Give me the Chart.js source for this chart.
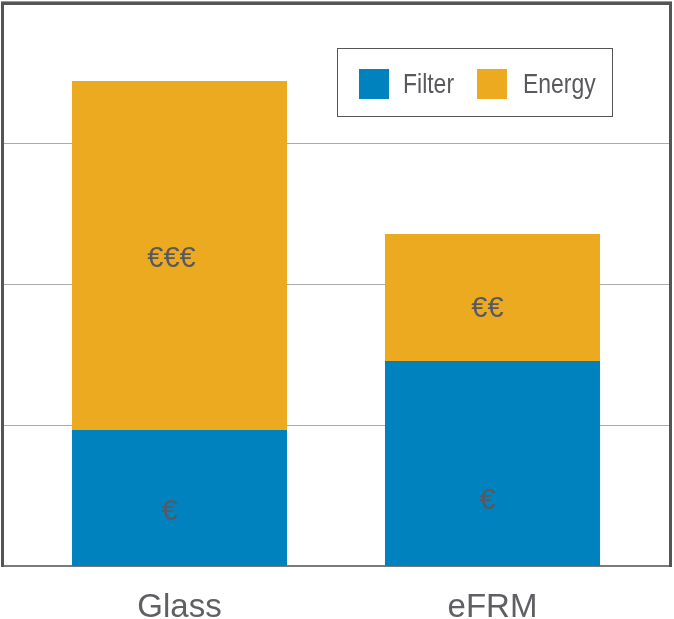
<!DOCTYPE html>
<html><head><meta charset="utf-8">
<script src="https://cdn.jsdelivr.net/npm/chart.js@4/dist/chart.umd.min.js"></script>
<style>html,body{margin:0;padding:0;background:#fff}#wrap{width:674px;height:619px;position:relative}</style>
</head><body><div id="wrap"><canvas id="c"></canvas></div>
<script>
// ---- data ----
const categories = ['Glass', 'eFRM'];
const seriesNames = ['Filter', 'Energy'];
const filterValues = [0.965, 1.454];
const energyValues = [2.475, 0.901];
const filterLabels = ['€', '€'];
const energyLabels = ['€€€', '€€'];
const yTicks = [0, 1, 2, 3, 4];

// ---- style ----
const BLUE = '#0082bf', ORANGE = '#ecaa20', TEXT = '#58585e';
const SANS = '"Liberation Sans", Arial, sans-serif';
// pixel nudges of the in-bar labels relative to each bar's centre [datasetIndex][index]
const labelNudge = [[[-10, 14], [-5, 38]], [[-8, 4], [-5, 12]]];

const framePlugin = {
  id: 'frame',
  beforeDatasetsDraw(chart) {
    const ctx = chart.ctx, y = chart.scales.y;
    ctx.save();
    ctx.fillStyle = '#ababab';
    yTicks.forEach(v => {
      if (v === yTicks[0] || v === yTicks[yTicks.length - 1]) return;
      const py = Math.round(y.getPixelForValue(v));
      ctx.fillRect(3, py, 667, 1);
    });
    const bottom = Math.round(y.getPixelForValue(yTicks[0]));
    ctx.fillStyle = '#7a7a7a';
    ctx.fillRect(1, bottom - 1, 671, 2);
    ctx.fillStyle = '#9a9a9a';
    ctx.fillRect(1, 1, 671, 1);
    ctx.fillStyle = '#555555';
    ctx.fillRect(1, 2, 671, 3);
    ctx.fillRect(1, 2, 3, bottom - 1);
    ctx.fillRect(669, 2, 3, bottom - 1);
    ctx.restore();
  },
  afterDatasetsDraw(chart) {
    const ctx = chart.ctx;
    const texts = [filterLabels, energyLabels];
    ctx.save();
    ctx.fillStyle = TEXT;
    ctx.font = '29px ' + SANS;
    ctx.textAlign = 'center';
    ctx.textBaseline = 'middle';
    chart.data.datasets.forEach((ds, di) => {
      chart.getDatasetMeta(di).data.forEach((bar, i) => {
        const p = bar.getProps(['x', 'y', 'base'], true);
        const cy = (p.y + p.base) / 2;
        const n = labelNudge[di][i];
        ctx.fillText(texts[di][i], p.x + n[0], cy + n[1]);
      });
    });
    // legend
    ctx.strokeStyle = '#555555';
    ctx.lineWidth = 1;
    ctx.strokeRect(337.5, 48.5, 275, 68);
    const items = [[359, 403], [477, 523]];
    ctx.textAlign = 'left';
    ctx.font = '28px ' + SANS;
    chart.data.datasets.forEach((ds, di) => {
      ctx.fillStyle = ds.backgroundColor;
      ctx.fillRect(items[di][0], 69, 30, 30);
      ctx.fillStyle = TEXT;
      ctx.save();
      ctx.translate(items[di][1], 85);
      ctx.scale(0.82, 1);
      ctx.fillText(ds.label, 0, 0);
      ctx.restore();
    });
    ctx.restore();
  }
};

new Chart(document.getElementById('c'), {
  type: 'bar',
  data: {
    labels: categories,
    datasets: [
      { label: seriesNames[0], data: filterValues, backgroundColor: BLUE },
      { label: seriesNames[1], data: energyValues, backgroundColor: ORANGE }
    ]
  },
  options: {
    responsive: true,
    maintainAspectRatio: false,
    animation: false,
    events: [],
    layout: { padding: { left: 23, right: 25, top: 2, bottom: 0 } },
    datasets: { bar: { barPercentage: 0.687, categoryPercentage: 1, borderWidth: 0 } },
    plugins: { legend: { display: false }, tooltip: { enabled: false } },
    scales: {
      x: {
        stacked: true,
        grid: { display: false, drawTicks: false, tickLength: 0 },
        border: { display: false },
        ticks: { color: '#606064', font: { family: SANS, size: 33 }, padding: 22, maxRotation: 0 },
        afterFit(s) { s.height = 53; }
      },
      y: {
        stacked: true,
        display: false,
        min: yTicks[0],
        max: yTicks[yTicks.length - 1],
        ticks: { stepSize: 1 }
      }
    }
  },
  plugins: [framePlugin]
});
</script>
</body></html>
